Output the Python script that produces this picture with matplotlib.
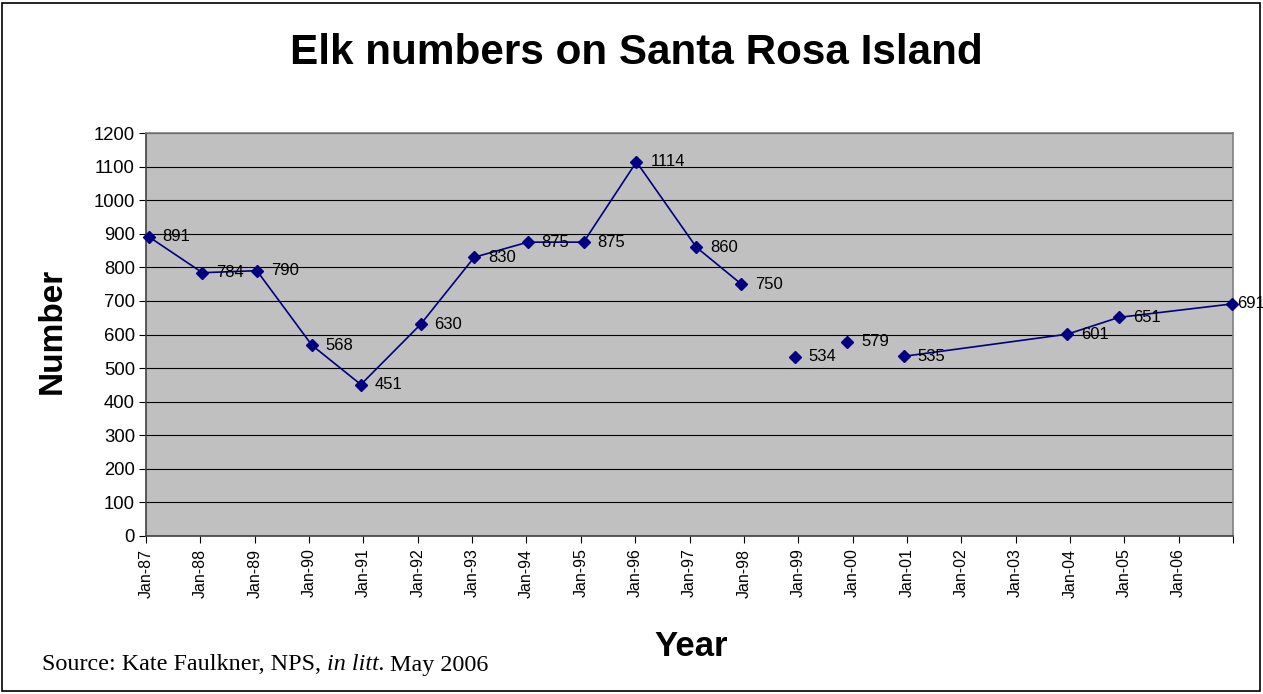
import matplotlib
matplotlib.use("Agg")
import matplotlib.pyplot as plt
import matplotlib.dates as mdates
from matplotlib.patches import Rectangle
import numpy as np
import datetime as dt

# ---- data ----
dates = ["1987-01-20", "1988-01-15", "1989-01-15", "1990-01-20", "1990-12-15",
         "1992-01-20", "1993-01-15", "1994-01-10", "1995-01-20", "1996-01-10",
         "1997-02-15", "1997-12-15", "1998-12-10", "1999-11-25", "2000-12-10",
         "2003-12-15", "2004-11-25", "2006-12-25"]
counts = [891, 784, 790, 568, 451, 630, 830, 875, 875, 1114,
          860, 750, 534, 579, 535, 601, 651, 691]
# indices after which the connecting line is broken
breaks_after = [11, 12, 13]
tick_years = list(range(1987, 2008))
tick_labels = [f"Jan-{y % 100:02d}" if y < 2007 else "" for y in tick_years]

title = "Elk numbers on Santa Rosa Island"
xlab = "Year"
ylab = "Number"
source = "Source: Kate Faulkner, NPS, "

# ---- plot ----
plt.rcParams['font.family'] = ['Liberation Sans', 'DejaVu Sans']
fig = plt.figure(figsize=(12.63, 6.94), dpi=100)
ax = fig.add_axes([146/1263, 1-536/694, (1233-146)/1263, (536-133)/694])
ax.set_facecolor("#C0C0C0")

x = np.array([mdates.date2num(dt.datetime.strptime(d, "%Y-%m-%d")) for d in dates])
y = np.array(counts, dtype=float)

# build line with breaks
lx, ly = [], []
for i in range(len(x)):
    lx.append(x[i]); ly.append(y[i])
    if i in breaks_after:
        lx.append(np.nan); ly.append(np.nan)
navy = "#000080"
ax.plot(lx, ly, color=navy, lw=1.2, zorder=3, clip_on=False)
ax.plot(x, y, ls="none", marker="D", ms=6, color=navy, zorder=4, clip_on=False)
n = len(x)
for i, (xi, yi) in enumerate(zip(x, y)):
    off = 10 if i < n - 1 else 4
    ax.annotate(f"{int(yi)}", (xi, yi), xytext=(off, 0), textcoords="offset points",
                ha="left", va="center", fontsize=12, color="black", zorder=5,
                annotation_clip=False)

ticks = [mdates.date2num(dt.datetime(yv, 1, 1)) for yv in tick_years]
ax.set_xlim(ticks[0], ticks[-1])
ax.set_xticks(ticks)
ax.set_xticklabels(tick_labels, rotation=90, fontsize=11.5)
ax.set_ylim(0, 1200)
ax.set_yticks(range(0, 1201, 100))
ax.tick_params(axis='y', labelsize=13.3, length=5, direction='out', pad=3)
ax.tick_params(axis='x', length=5, direction='out', pad=4)
ax.yaxis.grid(True, color="black", lw=0.8)
ax.set_axisbelow(True)
for s in ["top", "right"]:
    ax.spines[s].set_color("#808080")
    ax.spines[s].set_linewidth(1.2)
for s in ["left", "bottom"]:
    ax.spines[s].set_color("#404040")
    ax.spines[s].set_linewidth(1.2)

fig.text(636/1263, 1-53/694, title, ha="center", va="center", fontsize=30.4, fontweight="bold")
fig.text(691/1263, 1-646/694, xlab, ha="center", va="center", fontsize=25, fontweight="bold")
fig.text(52/1263, 1-331/694, ylab, ha="center", va="center", fontsize=24, fontweight="bold", rotation=90)
fs = 17.4
t = fig.text(42/1263, 1-665/694, source, ha="left", va="center", fontsize=fs,
             family="Liberation Serif")
fig.canvas.draw()
bb = t.get_window_extent()
t2 = fig.text(bb.x1/1263, 1-665/694, "in litt.", ha="left", va="center", fontsize=fs,
              family="Liberation Serif", style="italic")
bb2 = t2.get_window_extent()
fig.text(bb2.x1/1263 + 5/1263, 1-665/694, "May 2006", ha="left", va="center", fontsize=fs,
         family="Liberation Serif")

fig.patches.append(Rectangle((2/1263, 3/694), 1258/1263, 688/694, transform=fig.transFigure,
                             fill=False, edgecolor="black", lw=1.2))
fig.savefig("out.png", dpi=100)
